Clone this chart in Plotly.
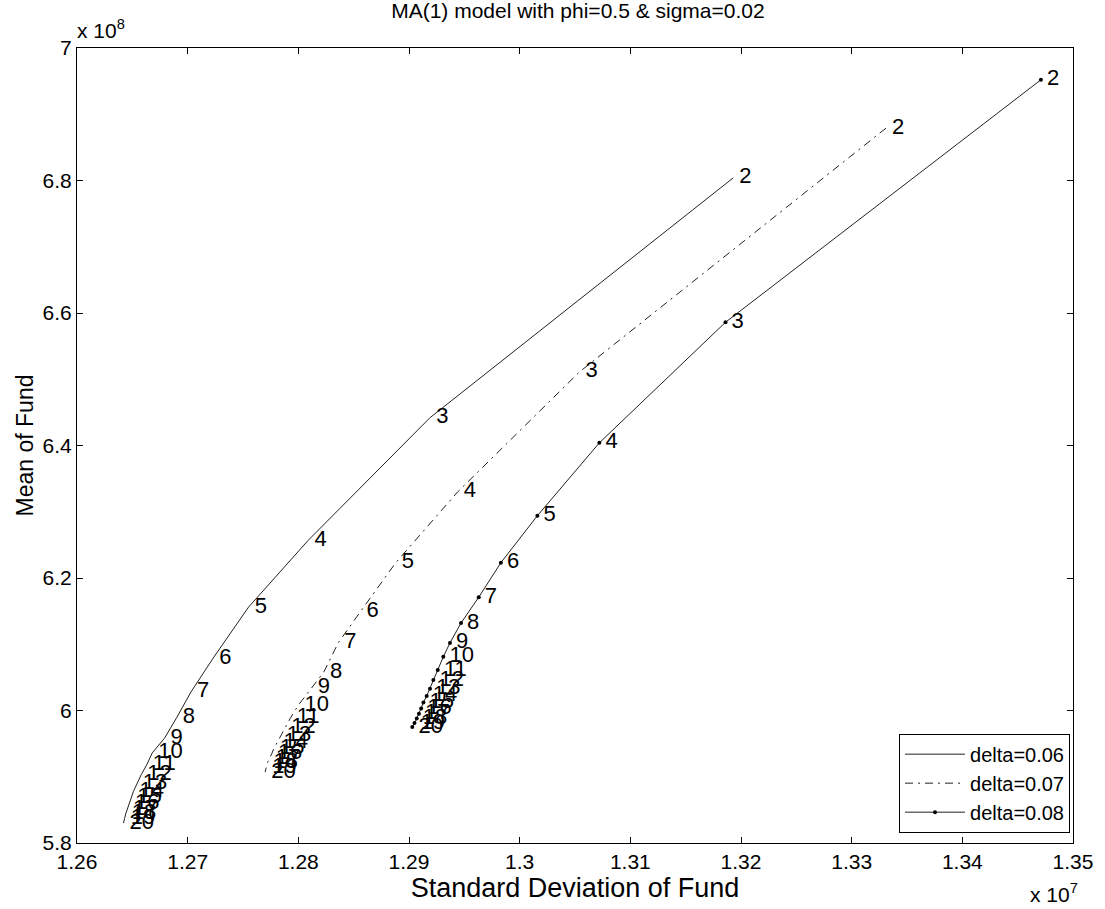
import plotly.graph_objects as go

# horizons (label numbers)
horizons = list(range(2, 21))

# delta = 0.06  (x in 1e7, y in 1e8)
std_006 = [1.3193, 1.2919, 1.2809, 1.2755, 1.2723, 1.2703, 1.2690, 1.2679, 1.2668, 1.2663,
           1.2658, 1.2654, 1.2651, 1.2649, 1.2647, 1.2645, 1.2644, 1.2643, 1.2642]
mean_006 = [6.804, 6.442, 6.257, 6.156, 6.079, 6.028, 5.989, 5.958, 5.936, 5.918,
            5.903, 5.890, 5.878, 5.868, 5.859, 5.851, 5.844, 5.837, 5.830]

# delta = 0.07
std_007 = [1.3331, 1.3054, 1.2944, 1.2888, 1.2856, 1.2836, 1.2823, 1.2812, 1.2800, 1.2793,
           1.2788, 1.2784, 1.2781, 1.2778, 1.2776, 1.2774, 1.2772, 1.2771, 1.2770]
mean_007 = [6.879, 6.511, 6.330, 6.223, 6.149, 6.102, 6.058, 6.034, 6.008, 5.989,
            5.974, 5.962, 5.952, 5.943, 5.935, 5.928, 5.921, 5.914, 5.907]

# delta = 0.08
std_008 = [1.3471, 1.3186, 1.3072, 1.3016, 1.2983, 1.2963, 1.2947, 1.2937, 1.2931, 1.2926,
           1.2922, 1.2919, 1.2916, 1.2913, 1.2911, 1.2909, 1.2907, 1.2905, 1.2903]
mean_008 = [6.952, 6.586, 6.404, 6.294, 6.223, 6.171, 6.132, 6.102, 6.081, 6.061,
            6.046, 6.033, 6.022, 6.012, 6.003, 5.995, 5.988, 5.981, 5.975]

x_ticks = [1.26, 1.27, 1.28, 1.29, 1.30, 1.31, 1.32, 1.33, 1.34, 1.35]
x_ticktext = ["1.26", "1.27", "1.28", "1.29", "1.3", "1.31", "1.32", "1.33", "1.34", "1.35"]
y_ticks = [5.8, 6.0, 6.2, 6.4, 6.6, 6.8, 7.0]
y_ticktext = ["5.8", "6", "6.2", "6.4", "6.6", "6.8", "7"]

FONT = "Liberation Sans, Arial, sans-serif"
labels = [" " + str(h) for h in horizons]

fig = go.Figure()

series = [
    ("delta=0.06", std_006, mean_006, "solid", False),
    ("delta=0.07", std_007, mean_007, "8px,5px,2px,5px", False),
    ("delta=0.08", std_008, mean_008, "solid", True),
]

for name, xs, ys, dash, dots in series:
    fig.add_trace(go.Scatter(
        x=xs, y=ys, name=name,
        mode="lines+markers" if dots else "lines",
        line=dict(color="#222222", width=1, dash=dash),
        marker=dict(color="black", size=4),
        showlegend=True,
    ))

for name, xs, ys, dash, dots in series:
    fig.add_trace(go.Scatter(
        x=xs, y=ys, mode="text", text=labels,
        textposition="middle right",
        textfont=dict(family=FONT, size=22, color="black"),
        showlegend=False, hoverinfo="skip",
    ))

fig.update_layout(
    width=1105, height=909,
    margin=dict(l=77, r=24, t=48, b=66),
    paper_bgcolor="white", plot_bgcolor="white",
    font=dict(family=FONT, size=21, color="black"),
    title=dict(text="MA(1) model with phi=0.5 & sigma=0.02", x=0.523, xanchor="center",
               y=0.996, yanchor="top", font=dict(size=21)),
    legend=dict(x=0.997, y=0.013, xanchor="right", yanchor="bottom",
                bgcolor="white", bordercolor="black", borderwidth=1,
                font=dict(size=20), tracegroupgap=0, itemwidth=60),
    showlegend=True,
)

fig.update_xaxes(
    range=[1.26, 1.35], tickvals=x_ticks, ticktext=x_ticktext,
    ticks="inside", ticklen=6, tickcolor="black", showline=True, linecolor="black",
    linewidth=1, mirror="ticks", showgrid=False, zeroline=False,
    title=dict(text="Standard Deviation of Fund", standoff=0, font=dict(size=27)),
    tickfont=dict(size=21),
)
fig.update_yaxes(
    range=[5.8, 7.0], tickvals=y_ticks, ticktext=y_ticktext,
    ticks="inside", ticklen=6, tickcolor="black", showline=True, linecolor="black",
    linewidth=1, mirror="ticks", showgrid=False, zeroline=False,
    title=dict(text="Mean of Fund", standoff=2, font=dict(size=23)),
    tickfont=dict(size=21),
)

fig.add_annotation(xref="paper", yref="paper", x=-0.002, y=1.0, xanchor="left", yanchor="bottom",
                   text="x 10<sup>8</sup>", showarrow=False, font=dict(size=21), yshift=4)
fig.add_annotation(xref="paper", yref="paper", x=0.955, y=0.0, xanchor="left", yanchor="top",
                   text="x 10<sup>7</sup>", showarrow=False, font=dict(size=21), yshift=-35)

fig.write_html("out.html")
